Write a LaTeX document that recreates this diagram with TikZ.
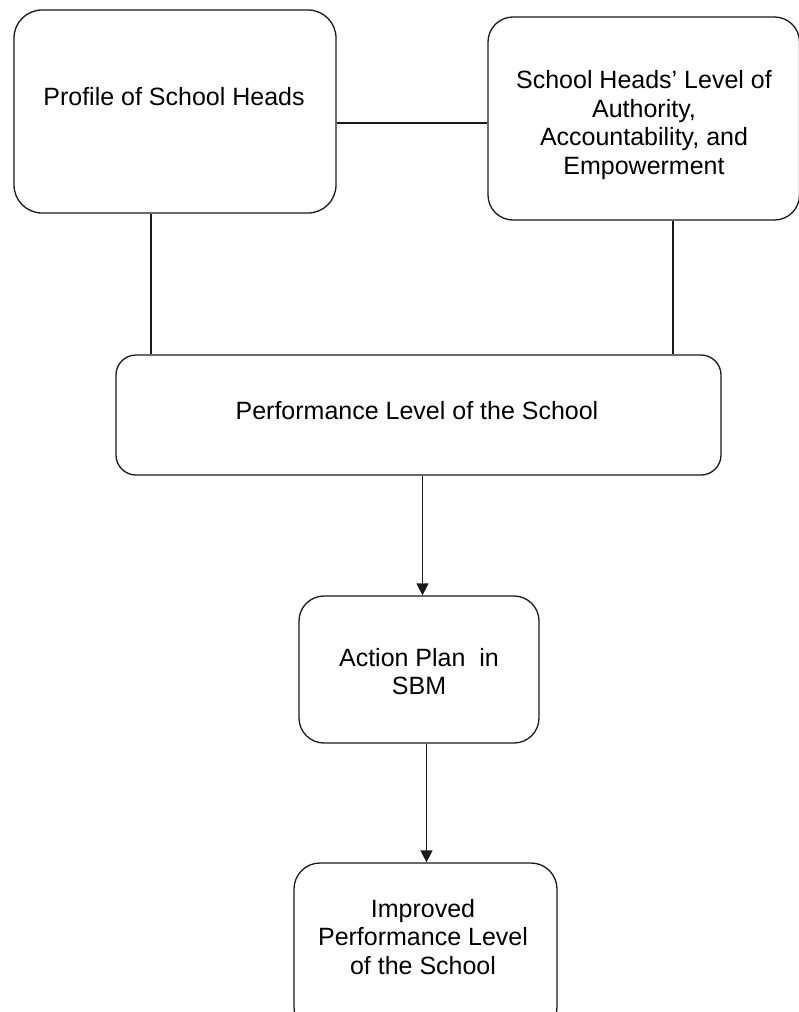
\documentclass[tikz,border=0pt]{standalone}
\usepackage{fontspec}
\setmainfont{Liberation Sans}
\usetikzlibrary{arrows.meta}
\newcommand{\mlines}[1]{\begin{tabular}[t]{@{}c@{}}#1\end{tabular}}
\begin{document}
\begin{tikzpicture}[x=1pt,y=-1pt,
  box/.style={draw=black!90, line width=1.3pt, fill=none, inner sep=0pt},
  txt/.style={anchor=base, inner sep=0pt, text=black, font=\fontsize{25pt}{28.7pt}\selectfont},
  link/.style={draw=black!90, line width=1.3pt},
  arr/.style={link, -{Triangle[width=12pt,length=12pt]}}]
\useasboundingbox (0,0) rectangle (799,1012);
% boxes
\node[box, rounded corners=28pt, minimum width=322pt, minimum height=203pt] (b1) at (175,111.5) {};
\node[box, rounded corners=25pt, minimum width=311.5pt, minimum height=203pt] (b2) at (643.75,118.5) {};
\node[box, rounded corners=20pt, minimum width=605pt, minimum height=120pt] (b3) at (418.5,415) {};
\node[box, rounded corners=25pt, minimum width=240pt, minimum height=147pt] (b4) at (419,669.5) {};
\node[box, rounded corners=26pt, minimum width=263pt, minimum height=170pt] (b5) at (425.5,948) {};
% texts
\node[txt] (t1) at (174,105) {Profile of School Heads};
\node[txt] (t2) at (644,88.5) {\mlines{School Heads' Level of\\Authority,\\Accountability, and\\Empowerment}};
\node[txt] (t3) at (417,419) {Performance Level of the School};
\node[txt] (t4) at (419,666) {\mlines{Action Plan\ \ in\\SBM}};
\node[txt] (t5) at (423,917) {\mlines{Improved\\Performance Level\\of the School}};
% connectors
\draw[link] (b1.east |- {(0,123)}) -- (b2.west |- {(0,123)});
\draw[link] (b1.south -| {(151,0)}) -- (b3.north -| {(151,0)});
\draw[link] (b2.south -| {(673,0)}) -- (b3.north -| {(673,0)});
\draw[arr] (b3.south -| {(422.5,0)}) -- (b4.north -| {(422.5,0)});
\draw[arr] (b4.south -| {(426.5,0)}) -- (b5.north -| {(426.5,0)});
\end{tikzpicture}
\end{document}
